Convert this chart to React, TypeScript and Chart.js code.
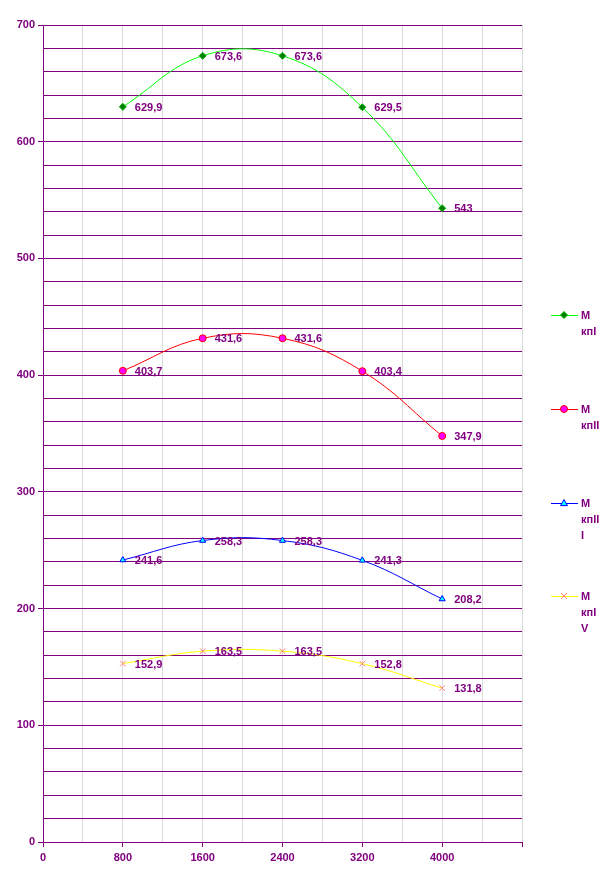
import React, { useEffect, useRef } from "react";
import { Chart, registerables } from "chart.js";

Chart.register(...registerables);

const xValues = [800, 1600, 2400, 3200, 4000];
const seriesNames = [["М", "кпI"], ["М", "кпII"], ["М", "кпII", "I"], ["М", "кпI", "V"]];
const mkp1 = [629.9, 673.6, 673.6, 629.5, 543];
const mkp2 = [403.7, 431.6, 431.6, 403.4, 347.9];
const mkp3 = [241.6, 258.3, 258.3, 241.3, 208.2];
const mkp4 = [152.9, 163.5, 163.5, 152.8, 131.8];

const PURPLE = "#800080";
const FONT = "bold 11px 'Liberation Sans', Arial, sans-serif";

const styles = [
  { line: "#00ff00", bg: "#008000", border: "#00b000", point: "rectRot", r: 3.5 },
  { line: "#ff0000", bg: "#ff00ff", border: "#ff0000", point: "circle", r: 3.5 },
  { line: "#0000ff", bg: "#00ffff", border: "#0000ff", point: "triangle", r: 3.5 },
  { line: "#ffff00", bg: "#ff8080", border: "#ff8080", point: "crossRot", r: 4 },
];

const fmt = (v: number) => String(v).replace(".", ",");

function marker(ctx: CanvasRenderingContext2D, kind: string, x: number, y: number, r: number) {
  ctx.beginPath();
  if (kind === "rectRot") {
    ctx.moveTo(x, y - r); ctx.lineTo(x + r, y); ctx.lineTo(x, y + r); ctx.lineTo(x - r, y); ctx.closePath();
    ctx.fill(); ctx.stroke();
  } else if (kind === "circle") {
    ctx.arc(x, y, r, 0, Math.PI * 2); ctx.fill(); ctx.stroke();
  } else if (kind === "triangle") {
    ctx.moveTo(x, y - r); ctx.lineTo(x + r, y + r * 0.75); ctx.lineTo(x - r, y + r * 0.75); ctx.closePath();
    ctx.fill(); ctx.stroke();
  } else {
    const d = r * 0.75;
    ctx.moveTo(x - d, y - d); ctx.lineTo(x + d, y + d); ctx.moveTo(x + d, y - d); ctx.lineTo(x - d, y + d);
    ctx.stroke();
  }
}

const labelPlugin = {
  id: "valueLabels",
  afterDatasetsDraw(chart: any) {
    const ctx = chart.ctx;
    ctx.save();
    ctx.font = FONT;
    ctx.fillStyle = PURPLE;
    ctx.textBaseline = "middle";
    ctx.textAlign = "left";
    chart.data.datasets.forEach((ds: any, i: number) => {
      const meta = chart.getDatasetMeta(i);
      meta.data.forEach((p: any, j: number) => {
        ctx.fillText(fmt(ds.data[j].y), p.x + 12, p.y + 1);
      });
    });
    ctx.restore();
  },
};

const legendPlugin = {
  id: "sideLegend",
  afterDraw(chart: any) {
    const ctx = chart.ctx;
    const x0 = 551;
    const ys = [315, 409, 503, 596];
    seriesNames.forEach((lines, i) => {
      const s = styles[i];
      const y = ys[i];
      ctx.save();
      ctx.strokeStyle = s.line;
      ctx.lineWidth = 1;
      ctx.beginPath();
      ctx.moveTo(x0, y + 0.5);
      ctx.lineTo(x0 + 27, y + 0.5);
      ctx.stroke();
      ctx.fillStyle = s.bg;
      ctx.strokeStyle = s.border;
      marker(ctx, s.point, x0 + 13, y, s.r);
      ctx.font = FONT;
      ctx.fillStyle = PURPLE;
      ctx.textBaseline = "middle";
      ctx.textAlign = "left";
      lines.forEach((t, k) => ctx.fillText(t, x0 + 30, y + 1 + k * 16));
      ctx.restore();
    });
  },
};

export default function App() {
  const ref = useRef<HTMLCanvasElement>(null);
  useEffect(() => {
    const all = [mkp1, mkp2, mkp3, mkp4];
    const chart = new Chart(ref.current!, {
      type: "line",
      data: {
        datasets: all.map((vals, i) => ({
          label: seriesNames[i].join(""),
          data: vals.map((v, j) => ({ x: xValues[j], y: v })),
          borderColor: styles[i].line,
          backgroundColor: styles[i].bg,
          pointBorderColor: styles[i].border,
          pointBackgroundColor: styles[i].bg,
          pointStyle: styles[i].point as any,
          pointRadius: styles[i].r,
          pointBorderWidth: 1,
          borderWidth: 1,
          tension: 0.4,
          fill: false,
        })),
      },
      options: {
        animation: false,
        responsive: true,
        maintainAspectRatio: false,
        layout: { padding: { top: 25, right: 88, left: 0, bottom: 0 } },
        plugins: { legend: { display: false }, tooltip: { enabled: false } },
        scales: {
          x: {
            type: "linear",
            min: 0,
            max: 4800,
            border: { color: PURPLE, width: 1 },
            grid: {
              color: "#d9d9d9",
              tickColor: (c: any) => (c.tick && c.tick.value % 800 === 0 ? PURPLE : "rgba(0,0,0,0)"),
              tickLength: 5,
            },
            ticks: {
              stepSize: 400,
              autoSkip: false,
              maxRotation: 0,
              color: PURPLE,
              padding: 4,
              font: { family: "'Liberation Sans', Arial", size: 11, weight: "bold" },
              callback: (v: any) => (v % 800 === 0 && v !== 4800 ? String(v) : ""),
            },
            afterFit: (s: any) => { s.height = 42; },
          },
          y: {
            min: 0,
            max: 700,
            border: { color: PURPLE, width: 1 },
            grid: {
              color: PURPLE,
              tickColor: (c: any) => (c.tick && c.tick.value % 100 === 0 ? PURPLE : "rgba(0,0,0,0)"),
              tickLength: 5,
            },
            ticks: {
              stepSize: 20,
              autoSkip: false,
              color: PURPLE,
              padding: 3,
              font: { family: "'Liberation Sans', Arial", size: 11, weight: "bold" },
              callback: (v: any) => (v % 100 === 0 ? String(v) : ""),
            },
            afterFit: (s: any) => { s.width = 43; },
          },
        },
      },
      plugins: [labelPlugin, legendPlugin],
    });
    return () => chart.destroy();
  }, []);
  return (
    <div style={{ position: "fixed", left: 0, top: 0, width: 610, height: 884, background: "#fff" }}>
      <canvas ref={ref} />
    </div>
  );
}
